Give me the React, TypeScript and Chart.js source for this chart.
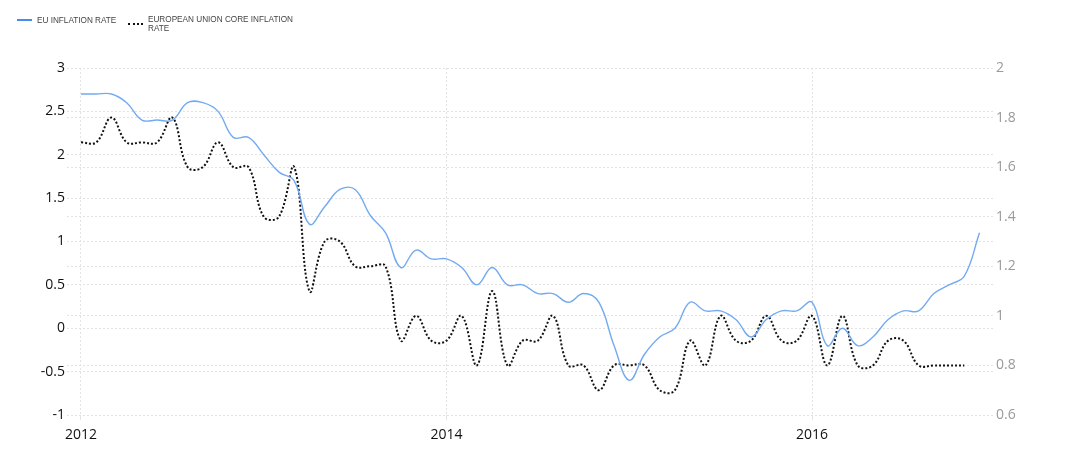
import React, { useEffect, useRef } from "react";
import { Chart, registerables } from "chart.js";

Chart.register(...registerables);

// Monthly observations, Jan 2012 .. Dec 2016
const years = [2012, 2013, 2014, 2015, 2016];
const monthNumbers = ["01", "02", "03", "04", "05", "06", "07", "08", "09", "10", "11", "12"];
const monthLabels: string[] = [];
years.forEach((y) => monthNumbers.forEach((m) => monthLabels.push(`${y}-${m}`)));

const euInflationRate = [
  2.7, 2.7, 2.7, 2.6, 2.4, 2.4, 2.4, 2.6, 2.6, 2.5, 2.2, 2.2,
  2.0, 1.8, 1.7, 1.2, 1.4, 1.6, 1.6, 1.3, 1.1, 0.7, 0.9, 0.8,
  0.8, 0.7, 0.5, 0.7, 0.5, 0.5, 0.4, 0.4, 0.3, 0.4, 0.3, -0.2,
  -0.6, -0.3, -0.1, 0.0, 0.3, 0.2, 0.2, 0.1, -0.1, 0.1, 0.2, 0.2,
  0.3, -0.2, 0.0, -0.2, -0.1, 0.1, 0.2, 0.2, 0.4, 0.5, 0.6, 1.1,
];

const coreInflationRate = [
  1.7, 1.7, 1.8, 1.7, 1.7, 1.7, 1.8, 1.6, 1.6, 1.7, 1.6, 1.6,
  1.4, 1.4, 1.6, 1.1, 1.3, 1.3, 1.2, 1.2, 1.2, 0.9, 1.0, 0.9,
  0.9, 1.0, 0.8, 1.1, 0.8, 0.9, 0.9, 1.0, 0.8, 0.8, 0.7, 0.8,
  0.8, 0.8, 0.7, 0.7, 0.9, 0.8, 1.0, 0.9, 0.9, 1.0, 0.9, 0.9,
  1.0, 0.8, 1.0, 0.8, 0.8, 0.9, 0.9, 0.8, 0.8, 0.8, 0.8,
];

const xTickYears = [2012, 2014, 2016];
const seriesNames = ["EU INFLATION RATE", "EUROPEAN UNION CORE INFLATION RATE"];

const toX = (label: string) => {
  const [y, m] = label.split("-");
  return parseInt(y, 10) + (parseInt(m, 10) - 1) / 12;
};

const tickFont = { family: "'Open Sans', sans-serif", size: 14 };
const gridColor = "#e3e3e3";

export default function App() {
  const ref = useRef<HTMLCanvasElement | null>(null);

  useEffect(() => {
    if (!ref.current) return;
    const chart = new Chart(ref.current, {
      type: "line",
      data: {
        datasets: [
          {
            label: seriesNames[0],
            data: euInflationRate.map((v, i) => ({ x: toX(monthLabels[i]), y: v })),
            borderColor: "#72aaf2",
            borderWidth: 1.4,
            pointRadius: 0,
            tension: 0.4,
            yAxisID: "y",
            fill: false,
          },
          {
            label: seriesNames[1],
            data: coreInflationRate.map((v, i) => ({ x: toX(monthLabels[i]), y: v })),
            borderColor: "#111111",
            borderWidth: 2,
            borderDash: [2, 2],
            pointRadius: 0,
            tension: 0.4,
            yAxisID: "y1",
            fill: false,
          },
        ],
      },
      options: {
        responsive: false,
        animation: false,
        layout: { padding: { top: 68, left: 0, right: 0, bottom: 0 } },
        plugins: { legend: { display: false }, tooltip: { enabled: false } },
        scales: {
          x: {
            type: "linear",
            min: 2011.9234,
            max: 2016.9904,
            afterBuildTicks: (s: any) => {
              s.ticks = xTickYears.map((v) => ({ value: v }));
            },
            afterFit: (s: any) => {
              s.height = 51;
            },
            ticks: {
              autoSkip: false,
              maxRotation: 0,
              padding: 7,
              color: "#111",
              font: tickFont,
              callback: (v: any) => String(v),
            },
            grid: { color: gridColor, tickLength: 5, drawTicks: true },
            border: { display: false, dash: [2, 2] },
          },
          y: {
            position: "left",
            min: -1,
            max: 3,
            afterFit: (s: any) => {
              s.width = 67;
            },
            ticks: {
              stepSize: 0.5,
              padding: 2,
              color: "#111",
              font: tickFont,
              callback: (v: any) => String(Number(Number(v).toFixed(1))),
            },
            grid: { color: gridColor, drawTicks: false },
            border: { display: false, dash: [2, 2] },
          },
          y1: {
            position: "right",
            min: 0.6,
            max: 2,
            afterFit: (s: any) => {
              s.width = 85;
            },
            ticks: {
              stepSize: 0.2,
              padding: 3,
              color: "#9a9a9a",
              font: tickFont,
              callback: (v: any) => String(Number(Number(v).toFixed(1))),
            },
            grid: { color: gridColor, drawTicks: false },
            border: { display: false, dash: [2, 2] },
          },
        },
      },
    } as any);
    return () => chart.destroy();
  }, []);

  const legendText: React.CSSProperties = {
    position: "absolute",
    fontFamily: "'Liberation Sans', Arial, sans-serif",
    fontSize: "8.2px",
    lineHeight: "9px",
    color: "#444",
    whiteSpace: "nowrap",
  };

  return (
    <div style={{ position: "absolute", left: 0, top: 0, width: 1078, height: 466, background: "#fff" }}>
      <canvas ref={ref} width={1078} height={466} style={{ position: "absolute", left: 0, top: 0, display: "block" }} />
      <div style={{ position: "absolute", left: 17, top: 19, width: 15, height: 1.5, background: "#3f8ef0" }} />
      <div style={{ ...legendText, left: 37, top: 15.5 }}>{seriesNames[0]}</div>
      <div style={{ position: "absolute", left: 128, top: 23, width: 15, height: 0, borderTop: "2px dotted #111" }} />
      <div style={{ ...legendText, left: 148, top: 15 }}>
        EUROPEAN UNION CORE INFLATION
        <br />
        RATE
      </div>
    </div>
  );
}
